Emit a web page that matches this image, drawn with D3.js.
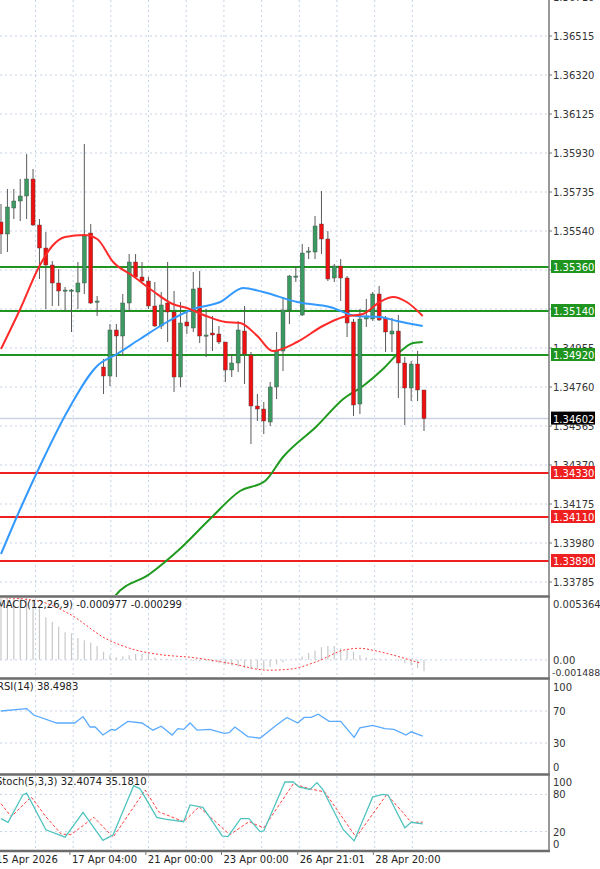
<!DOCTYPE html>
<html><head><meta charset="utf-8">
<script src="https://cdn.jsdelivr.net/npm/d3@7"></script>
<style>body{margin:0;background:#fff}svg{display:block;font-family:"DejaVu Sans",sans-serif}</style>
</head><body><div id="chart"></div>
<script>
// candles (open, high, low, close)
const opens = [1.35585,1.35525,1.35655,1.35690,1.35715,1.35800,1.35570,1.35455,1.35370,1.35280,1.35240,1.35240,1.35235,1.35280,1.35530,1.35185,1.34860,1.34815,1.35045,1.35015,1.35180,1.35385,1.35310,1.35290,1.35165,1.35065,1.35180,1.35135,1.34810,1.35085,1.35055,1.35255,1.35015,1.35030,1.35025,1.34985,1.34845,1.34880,1.35040,1.34920,1.34665,1.34650,1.34585,1.34760,1.34940,1.35145,1.35310,1.35120,1.35435,1.35435,1.35575,1.35500,1.35305,1.35365,1.35305,1.35085,1.34675,1.35100,1.35100,1.35225,1.35105,1.35025,1.35040,1.34880,1.34755,1.34875,1.34745];
const highs = [1.35675,1.35750,1.35750,1.35800,1.35925,1.35850,1.35600,1.35535,1.35390,1.35350,1.35260,1.35250,1.35385,1.35975,1.35575,1.35215,1.34900,1.35075,1.35075,1.35225,1.35425,1.35425,1.35385,1.35310,1.35285,1.35235,1.35385,1.35240,1.35185,1.35135,1.35335,1.35340,1.35150,1.35115,1.35065,1.34985,1.34925,1.35090,1.35165,1.34935,1.34725,1.34685,1.34785,1.35035,1.35210,1.35320,1.35365,1.35475,1.35460,1.35615,1.35740,1.35540,1.35375,1.35400,1.35315,1.35100,1.35150,1.35200,1.35235,1.35265,1.35115,1.35105,1.35120,1.34910,1.34890,1.34940,1.34745];
const lows = [1.35425,1.35435,1.35600,1.35590,1.35600,1.35565,1.35300,1.35150,1.35165,1.35165,1.35140,1.35035,1.35150,1.35225,1.35175,1.35115,1.34725,1.34765,1.34810,1.34915,1.35135,1.35300,1.35285,1.35150,1.35060,1.35050,1.34985,1.34735,1.34760,1.35025,1.35035,1.34980,1.34910,1.34940,1.34975,1.34785,1.34810,1.34835,1.34775,1.34475,1.34590,1.34525,1.34565,1.34700,1.34840,1.35075,1.35285,1.35115,1.35400,1.35400,1.35425,1.35290,1.35285,1.35190,1.35010,1.34615,1.34625,1.35060,1.35090,1.35090,1.34935,1.34935,1.34705,1.34570,1.34690,1.34690,1.34540];
const closes = [1.35525,1.35660,1.35690,1.35715,1.35800,1.35570,1.35455,1.35370,1.35280,1.35240,1.35245,1.35245,1.35280,1.35515,1.35180,1.35190,1.34815,1.35045,1.35015,1.35180,1.35385,1.35310,1.35290,1.35165,1.35065,1.35170,1.35135,1.34810,1.35080,1.35065,1.35250,1.35015,1.35020,1.35020,1.34985,1.34845,1.34880,1.35045,1.34925,1.34665,1.34650,1.34590,1.34760,1.34940,1.35145,1.35315,1.35315,1.35430,1.35440,1.35565,1.35500,1.35300,1.35365,1.35305,1.35080,1.34670,1.35100,1.35115,1.35225,1.35095,1.35035,1.35040,1.34880,1.34755,1.34875,1.34745,1.34602];

// moving averages as [candle index, price]
const maRed = [[0,1.34950],[3,1.35150],[6,1.35365],[8,1.35465],[10,1.35510],[13,1.35520],[15,1.35500],[17.5,1.35385],[20.6,1.35315],[23.7,1.35240],[26.8,1.35175],[29,1.35155],[32,1.35115],[35,1.35085],[37.3,1.35080],[40,1.35015],[42.4,1.34940],[46.2,1.34985],[50.2,1.35065],[53.4,1.35110],[56.5,1.35125],[59.1,1.35185],[61.2,1.35210],[63.3,1.35185],[65.8,1.35115]];
const maBlue = [[0,1.33925],[3,1.34150],[6.6,1.34400],[10.3,1.34635],[15,1.34865],[18.1,1.34925],[21.7,1.35000],[25.9,1.35085],[30,1.35150],[34.2,1.35185],[37.8,1.35255],[40.9,1.35235],[46.2,1.35185],[51.3,1.35160],[55.5,1.35115],[59.1,1.35110],[61.8,1.35090],[65.8,1.35065]];
const maGreen = [[16.5,1.33650],[17.8,1.33715],[23.2,1.33825],[27.9,1.33950],[32.6,1.34100],[37.3,1.34240],[41.2,1.34290],[44,1.34410],[49.3,1.34565],[53.4,1.34700],[56.5,1.34765],[59.6,1.34850],[62.2,1.34935],[64.3,1.34980],[65.8,1.34985]];

const greenLevels = [1.3536, 1.3514, 1.3492];
const redLevels = [1.3433, 1.3411, 1.3389];
const lastPrice = 1.34602;
const priceTicks = [1.36710,1.36515,1.36320,1.36125,1.35930,1.35735,1.35540,1.35345,1.35150,1.34955,1.34760,1.34565,1.34370,1.34175,1.33980,1.33785];
// these two sit under the level boxes and are not visible
const hiddenTicks = [1.35345, 1.35150];

const macdHist = [.0056,.0056,.0056,.0056,.0056,.0052,.0045,.0037,.0033,.0029,.0024,.0023,.0019,.0017,.0015,.0012,.0007,.0004,.0002,.0003,.0004,.0005,.0005,.0004,.0002,.0001,.0001,0,0,0,-.0001,-.0001,-.0001,-.0002,-.0003,-.0004,-.0005,-.0006,-.0007,-.0008,-.0008,-.0008,-.0006,-.0004,-.0002,0,.0001,.0003,.0006,.0008,.0011,.0012,.0012,.0010,.0009,.0007,.0004,.0002,.0001,.0001,.0001,0,-.0001,-.0003,-.0005,-.0007,-.00098];
const macdSignal = [[0,.0054],[5.8,.0051],[10.6,.0040],[16.5,.0018],[20.1,.0010],[25,.00044],[29.6,.00022],[35.7,-.0003],[41.7,-.0009],[45.2,-.0008],[49.5,-.0001],[53.5,.00085],[56,.0010],[58.3,.0008],[61.9,.0003],[65.5,-.00030]];
const rsi = [[0,70],[4,73],[5.1,65],[8.7,55],[11.5,55],[12.8,63],[13.9,50],[14.7,50],[15.9,40],[17.2,47],[17.8,46],[19.8,57],[22,55],[23.7,46],[25,51],[26.7,40],[27.6,48],[28.5,47],[29.5,55],[30.6,46],[32.6,47],[34.8,42],[35.6,43],[36.5,50],[38.5,38],[40.4,36],[42.9,52],[44.6,62],[46.3,55],[47.3,62],[48.4,62],[49.5,66],[51.2,57],[53,57],[55.1,37],[56,49],[58,52],[59.9,48],[61.3,47],[63.2,40],[64,44],[65.8,38.5]];
const stochK = [[0,41],[1.1,35],[3.4,79],[4,82],[7,23],[10,11],[12.8,51],[15.9,6],[17.5,15],[20.7,94],[21.7,89],[24.3,43],[25.6,40],[28.5,36],[29.5,63],[31.5,59],[34.5,13],[35.4,12],[37.4,41],[38.7,41],[40.4,20],[41,21],[44.3,100],[45.6,100],[46.5,92],[48.2,88],[49.3,99],[50.2,88],[53.4,23],[55.1,5],[58,76],[59.6,80],[60.4,79],[63,26],[64,35],[65.8,32.4]];
const stochD = [[0,65],[1.6,44],[4.7,76],[7,44],[9.4,16],[10.9,15],[14.5,43],[17.5,11],[22.5,87],[24.6,52],[28.5,36],[30.9,60],[35.7,15],[38.7,36],[41,26],[45.6,97],[48.2,89],[50.5,84],[55.4,11],[60.2,80],[62.6,52],[64,35],[65.8,35.2]];

const timeLabels = [[-1.1,"15 Apr 2026"],[10.75,"17 Apr 04:00"],[22.6,"21 Apr 00:00"],[34.4,"23 Apr 00:00"],[46.3,"26 Apr 21:01"],[58.1,"28 Apr 20:00"]];

const W = 600, H = 869, axisX = 549;
const svg = d3.select("#chart").append("svg").attr("width", W).attr("height", H);

const x = d3.scaleLinear().domain([0, 66]).range([1, 424]);
const y = d3.scaleLinear().domain([1.367, 1.33725]).range([-1, 594]);

const panels = [
  {top: 0, bottom: 595},
  {top: 598, bottom: 677},
  {top: 680, bottom: 773},
  {top: 776, bottom: 850}
];
const yMacd = d3.scaleLinear().domain([-0.001488, 0.005364]).range([677, 598]);
const yRsi = d3.scaleLinear().domain([0, 100]).range([767, 687]);
const ySto = d3.scaleLinear().domain([0, 100]).range([844, 782]);

const gridCol = "#c5d3e6";
panels.forEach((p, i) => {
  svg.append("clipPath").attr("id", "clip" + i).append("rect")
    .attr("x", 0).attr("y", p.top).attr("width", axisX).attr("height", p.bottom - p.top);
});

// vertical grid
const vgrid = d3.range(-0.5, 70, 5.88).map(i => x(i));
panels.forEach(p => {
  svg.append("g").selectAll("line").data(vgrid.filter(v => v > 0 && v < axisX)).join("line")
    .attr("x1", d => d).attr("x2", d => d).attr("y1", p.top).attr("y2", p.bottom)
    .attr("stroke", gridCol).attr("stroke-dasharray", "2,3");
});
// horizontal grid
svg.append("g").selectAll("line").data(priceTicks).join("line")
  .attr("x1", 0).attr("x2", axisX).attr("y1", d => y(d)).attr("y2", d => y(d))
  .attr("stroke", gridCol).attr("stroke-dasharray", "2,3");
[[yMacd, [0]], [yRsi, [70, 30]], [ySto, [80, 20]]].forEach(([sc, vals]) => {
  svg.append("g").selectAll("line").data(vals).join("line")
    .attr("x1", 0).attr("x2", axisX).attr("y1", d => sc(d)).attr("y2", d => sc(d))
    .attr("stroke", gridCol).attr("stroke-dasharray", "2,3");
});

// main panel
const main = svg.append("g").attr("clip-path", "url(#clip0)");
main.append("line").attr("x1", 0).attr("x2", axisX).attr("y1", y(lastPrice)).attr("y2", y(lastPrice))
  .attr("stroke", "#c9d3e3").attr("stroke-width", 1.5);
main.selectAll(".gl").data(greenLevels).join("line")
  .attr("x1", 0).attr("x2", axisX).attr("y1", d => y(d)).attr("y2", d => y(d))
  .attr("stroke", "#1f951f").attr("stroke-width", 2);
main.selectAll(".rl").data(redLevels).join("line")
  .attr("x1", 0).attr("x2", axisX).attr("y1", d => y(d)).attr("y2", d => y(d))
  .attr("stroke", "#ee2020").attr("stroke-width", 2);

const line = (sc) => d3.line().x(d => x(d[0])).y(d => sc(d[1])).curve(d3.curveMonotoneX);
main.append("path").datum(maGreen).attr("d", line(y)).attr("fill", "none").attr("stroke", "#1f9a1f").attr("stroke-width", 2);

const candles = opens.map((o, i) => ({i, o, h: highs[i], l: lows[i], c: closes[i]}));
main.selectAll(".wick").data(candles).join("line")
  .attr("x1", d => x(d.i)).attr("x2", d => x(d.i)).attr("y1", d => y(d.h)).attr("y2", d => y(d.l))
  .attr("stroke", "#5a5a5a");
main.selectAll(".body").data(candles).join("rect")
  .attr("x", d => x(d.i) - 2).attr("width", 4)
  .attr("y", d => y(Math.max(d.o, d.c)))
  .attr("height", d => Math.max(1.2, Math.abs(y(d.o) - y(d.c))))
  .attr("fill", d => d.c >= d.o ? "#3b9a62" : "#ee1111")
  .attr("stroke", "#444").attr("stroke-width", 0.4);

main.append("path").datum(maBlue).attr("d", line(y)).attr("fill", "none").attr("stroke", "#3399ff").attr("stroke-width", 2);
main.append("path").datum(maRed).attr("d", line(y)).attr("fill", "none").attr("stroke", "#ff2a2a").attr("stroke-width", 2);

// MACD
const g1 = svg.append("g").attr("clip-path", "url(#clip1)");
g1.selectAll("line").data(macdHist).join("line")
  .attr("x1", (d, i) => x(i)).attr("x2", (d, i) => x(i)).attr("y1", yMacd(0)).attr("y2", d => yMacd(d))
  .attr("stroke", "#c8c8c8").attr("stroke-width", 1.2);
g1.append("path").datum(macdSignal).attr("d", line(yMacd)).attr("fill", "none")
  .attr("stroke", "#ff3b3b").attr("stroke-dasharray", "2,2");
// RSI
svg.append("g").attr("clip-path", "url(#clip2)").append("path").datum(rsi).attr("d", d3.line().x(d => x(d[0])).y(d => yRsi(d[1])))
  .attr("fill", "none").attr("stroke", "#5aaaff").attr("stroke-width", 1.3);
// Stoch
const g3 = svg.append("g").attr("clip-path", "url(#clip3)");
g3.append("path").datum(stochD).attr("d", d3.line().x(d => x(d[0])).y(d => ySto(d[1])))
  .attr("fill", "none").attr("stroke", "#ff4040").attr("stroke-dasharray", "3,2");
g3.append("path").datum(stochK).attr("d", d3.line().x(d => x(d[0])).y(d => ySto(d[1])))
  .attr("fill", "none").attr("stroke", "#52c4c0").attr("stroke-width", 1.3);

// panel borders
[596.5, 678.5, 774.5, 851].forEach(v => {
  svg.append("line").attr("x1", 0).attr("x2", axisX + 1).attr("y1", v).attr("y2", v)
    .attr("stroke", "#6b6b6b").attr("stroke-width", 2.5);
});
svg.append("line").attr("x1", axisX).attr("x2", axisX).attr("y1", 0).attr("y2", 851)
  .attr("stroke", "#777").attr("stroke-width", 1.5);

// right axis labels
const txt = (g, xx, yy, s, col = "#333", fs = 10) => g.append("text").attr("x", xx).attr("y", yy)
  .attr("font-size", fs).attr("fill", col).text(s);
const ax = svg.append("g");
priceTicks.forEach(p => {
  ax.append("line").attr("x1", axisX).attr("x2", axisX + 3).attr("y1", y(p)).attr("y2", y(p)).attr("stroke", "#777");
  if (!hiddenTicks.includes(p)) txt(ax, 553, y(p) + 4, p.toFixed(5));
});
const box = (p, fill) => {
  ax.append("rect").attr("x", 551).attr("y", y(p) - 7).attr("width", 44).attr("height", 13).attr("fill", fill);
  txt(ax, 553, y(p) + 4, p.toFixed(5), "#fff");
};
greenLevels.forEach(p => box(p, "#1f951f"));
redLevels.forEach(p => box(p, "#ee2020"));
box(lastPrice, "#000");

txt(ax, 553, 608, "0.005364");
txt(ax, 553, 664, "0.00");
txt(ax, 552, 676, "-0.001488", "#333", 9.4);
[[100, yRsi], [70, yRsi], [30, yRsi], [0, yRsi], [100, ySto], [80, ySto], [20, ySto], [0, ySto]].forEach(([v, sc]) => {
  txt(ax, 553, sc(v) + 4, String(v));
});

// indicator headers
txt(svg, -3, 608, "MACD(12,26,9) -0.000977 -0.000299", "#222");
txt(svg, -3, 690, "RSI(14) 38.4983", "#222");
txt(svg, -4, 785, "Stoch(5,3,3) 32.4074 35.1810", "#222");

// time axis
timeLabels.forEach(([i, s]) => {
  svg.append("line").attr("x1", x(i)).attr("x2", x(i)).attr("y1", 851).attr("y2", 855).attr("stroke", "#777");
  txt(svg, x(i) + 2, 863, s, "#222");
});
</script></body></html>
